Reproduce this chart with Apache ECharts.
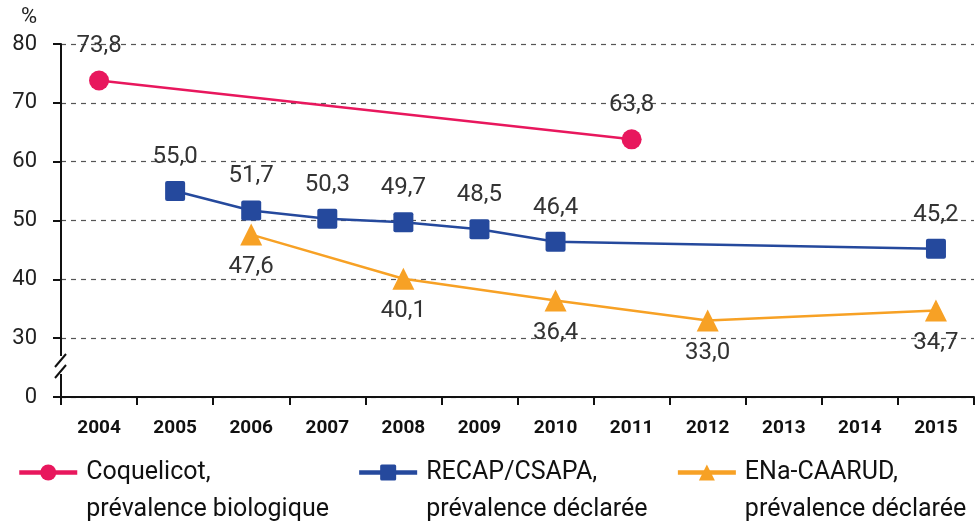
<!DOCTYPE html>
<html>
<head>
<meta charset="utf-8">
<script src="https://cdn.jsdelivr.net/npm/echarts@6/dist/echarts.min.js"></script>
<style>
  html, body { margin: 0; padding: 0; background: #fff; }
  #chart { width: 976px; height: 530px; }
</style>
</head>
<body>
<div id="chart"></div>
<script>
// years on the x axis
var years = ['2004', '2005', '2006', '2007', '2008', '2009', '2010', '2011', '2012', '2013', '2014', '2015']
// prevalence values (%), null where no survey
var coquelicot = [73.8, null, null, null, null, null, null, 63.8, null, null, null, null]
var recap = [null, 55.0, 51.7, 50.3, 49.7, 48.5, 46.4, null, null, null, null, 45.2]
var enaCaarud = [null, null, 47.6, null, 40.1, null, 36.4, null, 33.0, null, null, 34.7]
// the axis is broken: the bottom tick stands for 0
var yTicks = {20: '0', 30: '30', 40: '40', 50: '50', 60: '60', 70: '70', 80: '80'}

var font = 'Roboto, "DejaVu Sans", sans-serif'
var fmt = function (p) { return p.value == null ? '' : p.value.toFixed(1).replace('.', ',') }

function makeSeries(name, data, color, symbol, size, pos, dist) {
    return {
        name: name,
        type: 'line',
        data: data,
        connectNulls: true,
        symbol: symbol,
        symbolSize: size,
        lineStyle: { color: color, width: 2.5 },
        itemStyle: { color: color },
        label: {
            show: true,
            position: pos,
            distance: dist,
            formatter: fmt,
            color: '#333',
            fontSize: 24,
            fontFamily: font
        }
    }
}

var s1 = makeSeries('Coquelicot,\nprévalence biologique', coquelicot, '#e8175d', 'circle', 20, 'top', 12)
var s2 = makeSeries('RECAP/CSAPA,\nprévalence déclarée', recap, '#25499d', 'path://M2,0 L18,0 Q20,0 20,2 L20,18 Q20,20 18,20 L2,20 Q0,20 0,18 L0,2 Q0,0 2,0 Z', 20, 'top', 12)
var s3 = makeSeries('ENa-CAARUD,\nprévalence déclarée', enaCaarud, '#f7a125', 'triangle', 22, 'bottom', 9)

var chart = echarts.init(document.getElementById('chart'))
chart.setOption({
    animation: false,
    grid: { left: 61, right: 2, top: 44, bottom: 133, containLabel: false },
    xAxis: {
        type: 'category',
        data: years,
        boundaryGap: true,
        axisLine: { lineStyle: { color: '#111', width: 2 } },
        axisTick: { show: true, length: 8, lineStyle: { color: '#111', width: 2 } },
        axisLabel: {
            margin: 22,
            color: '#111',
            fontSize: 19,
            fontWeight: 'bold',
            fontFamily: font
        }
    },
    yAxis: {
        type: 'value',
        min: 20,
        max: 80,
        interval: 10,
        name: '%',
        nameGap: 16,
        nameTextStyle: { color: '#222', fontSize: 22, fontFamily: font, align: 'right', padding: [0, 24, 0, 0] },
        axisLine: { show: true, lineStyle: { color: '#111', width: 2 } },
        axisTick: { show: true, inside: false, length: 8, lineStyle: { color: '#111', width: 2 } },
        axisLabel: {
            margin: 24,
            color: '#222',
            fontSize: 22,
            fontFamily: font,
            formatter: function (v) { return yTicks[v] }
        },
        splitLine: { show: true, lineStyle: { color: '#555', type: [5, 5], width: 1.2 } }
    },
    legend: {
        left: 12,
        top: 412,
        itemGap: 28,
        itemWidth: 58,
        itemHeight: 20,
        lineStyle: { width: 4.5 },
        formatter: function (name) { return '\n' + name },
        textStyle: { color: '#111', fontSize: 25, lineHeight: 37, fontFamily: font, padding: [0, 0, 0, 4] }
    },
    graphic: [
        // axis break marks
        { type: 'rect', shape: { x: 55, y: 356, width: 12, height: 18 }, style: { fill: '#fff' }, z: 100 },
        { type: 'line', shape: { x1: 55, y1: 367, x2: 66, y2: 354 }, style: { stroke: '#111', lineWidth: 2 }, z: 101 },
        { type: 'line', shape: { x1: 55, y1: 378, x2: 66, y2: 365 }, style: { stroke: '#111', lineWidth: 2 }, z: 101 }
    ],
    series: [s1, s2, s3]
})
</script>
</body>
</html>
